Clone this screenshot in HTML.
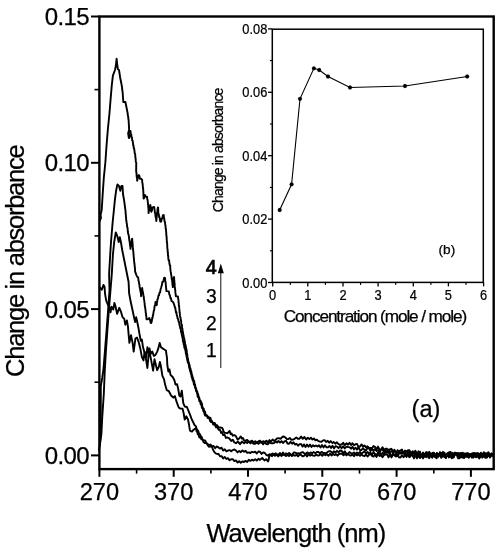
<!DOCTYPE html>
<html><head><meta charset="utf-8"><title>Change in absorbance</title>
<style>
html,body{margin:0;padding:0;background:#fff;}
svg{display:block;}
text{font-family:"Liberation Sans",sans-serif;fill:#000;}
</style></head><body>
<svg width="500" height="550" viewBox="0 0 500 550">
<rect width="500" height="550" fill="#fff"/>
<g stroke="#000" fill="none" stroke-linecap="butt">
<rect x="99.4" y="16.5" width="394.3" height="452.6" stroke-width="2.4"/>
<line x1="91" x2="99.4" y1="455.4" y2="455.4" stroke-width="2"/>
<line x1="91" x2="99.4" y1="309.1" y2="309.1" stroke-width="2"/>
<line x1="91" x2="99.4" y1="162.8" y2="162.8" stroke-width="2"/>
<line x1="91" x2="99.4" y1="16.5" y2="16.5" stroke-width="2"/>
<line x1="94.5" x2="99.4" y1="382.2" y2="382.2" stroke-width="1.6"/>
<line x1="94.5" x2="99.4" y1="235.9" y2="235.9" stroke-width="1.6"/>
<line x1="94.5" x2="99.4" y1="89.6" y2="89.6" stroke-width="1.6"/>
<line x1="99.4" x2="99.4" y1="469" y2="476.8" stroke-width="2"/>
<line x1="173.7" x2="173.7" y1="469" y2="476.8" stroke-width="2"/>
<line x1="248.0" x2="248.0" y1="469" y2="476.8" stroke-width="2"/>
<line x1="322.3" x2="322.3" y1="469" y2="476.8" stroke-width="2"/>
<line x1="396.6" x2="396.6" y1="469" y2="476.8" stroke-width="2"/>
<line x1="470.9" x2="470.9" y1="469" y2="476.8" stroke-width="2"/>
<line x1="136.6" x2="136.6" y1="469" y2="473.6" stroke-width="1.6"/>
<line x1="210.9" x2="210.9" y1="469" y2="473.6" stroke-width="1.6"/>
<line x1="285.1" x2="285.1" y1="469" y2="473.6" stroke-width="1.6"/>
<line x1="359.5" x2="359.5" y1="469" y2="473.6" stroke-width="1.6"/>
<line x1="433.8" x2="433.8" y1="469" y2="473.6" stroke-width="1.6"/>
</g>
<g stroke="#000" stroke-width="0.25">
<g font-size="24px">
<text x="89" y="464.0" text-anchor="end" letter-spacing="-0.6">0.00</text>
<text x="89" y="317.7" text-anchor="end" letter-spacing="-0.6">0.05</text>
<text x="89" y="171.4" text-anchor="end" letter-spacing="-0.6">0.10</text>
<text x="89" y="25.1" text-anchor="end" letter-spacing="-0.6">0.15</text>
</g>
<g font-size="23.6px">
<text x="99.4" y="499.8" text-anchor="middle">270</text>
<text x="173.7" y="499.8" text-anchor="middle">370</text>
<text x="248.0" y="499.8" text-anchor="middle">470</text>
<text x="322.3" y="499.8" text-anchor="middle">570</text>
<text x="396.6" y="499.8" text-anchor="middle">670</text>
<text x="470.9" y="499.8" text-anchor="middle">770</text>
</g>
<text x="295.9" y="542" font-size="25.5px" text-anchor="middle" letter-spacing="-0.95">Wavelength (nm)</text>
<text transform="translate(24,261.3) rotate(-90)" font-size="25.5px" text-anchor="middle" letter-spacing="-1.27">Change in absorbance</text>
<text x="411.6" y="417.3" font-size="23.5px">(a)</text>
<text x="211.3" y="274.4" font-size="19.8px" text-anchor="middle" stroke-width="0.7">4</text>
<text x="211.3" y="302.5" font-size="19.3px" text-anchor="middle">3</text>
<text x="211.3" y="329.8" font-size="19.3px" text-anchor="middle">2</text>
<text x="211.3" y="356.5" font-size="19.3px" text-anchor="middle">1</text>
<line x1="220.8" x2="220.8" y1="270" y2="368" stroke="#1a1a1a" stroke-width="1.05"/>
<path d="M220.8 263.6 L223.8 273.2 L217.8 273.2 Z" fill="#000" stroke="none"/>
<g stroke="#000" fill="none">
<rect x="272.3" y="29.2" width="211" height="253.2" stroke-width="1.5"/>
<line x1="268" x2="272.3" y1="282.5" y2="282.5" stroke-width="1.3"/>
<line x1="268" x2="272.3" y1="219.1" y2="219.1" stroke-width="1.3"/>
<line x1="268" x2="272.3" y1="155.7" y2="155.7" stroke-width="1.3"/>
<line x1="268" x2="272.3" y1="92.3" y2="92.3" stroke-width="1.3"/>
<line x1="268" x2="272.3" y1="28.9" y2="28.9" stroke-width="1.3"/>
<line x1="269.9" x2="272.3" y1="250.8" y2="250.8" stroke-width="1.1"/>
<line x1="269.9" x2="272.3" y1="187.4" y2="187.4" stroke-width="1.1"/>
<line x1="269.9" x2="272.3" y1="124.0" y2="124.0" stroke-width="1.1"/>
<line x1="269.9" x2="272.3" y1="60.6" y2="60.6" stroke-width="1.1"/>
<line x1="272.7" x2="272.7" y1="282.4" y2="286.4" stroke-width="1.3"/>
<line x1="307.8" x2="307.8" y1="282.4" y2="286.4" stroke-width="1.3"/>
<line x1="343.0" x2="343.0" y1="282.4" y2="286.4" stroke-width="1.3"/>
<line x1="378.1" x2="378.1" y1="282.4" y2="286.4" stroke-width="1.3"/>
<line x1="413.3" x2="413.3" y1="282.4" y2="286.4" stroke-width="1.3"/>
<line x1="448.4" x2="448.4" y1="282.4" y2="286.4" stroke-width="1.3"/>
<line x1="483.6" x2="483.6" y1="282.4" y2="286.4" stroke-width="1.3"/>
<line x1="290.3" x2="290.3" y1="282.4" y2="284.9" stroke-width="1.1"/>
<line x1="325.4" x2="325.4" y1="282.4" y2="284.9" stroke-width="1.1"/>
<line x1="360.6" x2="360.6" y1="282.4" y2="284.9" stroke-width="1.1"/>
<line x1="395.7" x2="395.7" y1="282.4" y2="284.9" stroke-width="1.1"/>
<line x1="430.9" x2="430.9" y1="282.4" y2="284.9" stroke-width="1.1"/>
<line x1="466.0" x2="466.0" y1="282.4" y2="284.9" stroke-width="1.1"/>
</g>
<g font-size="14.6px">
<text transform="translate(267.3,287.5) scale(0.88,1)" text-anchor="end">0.00</text>
<text transform="translate(267.3,224.1) scale(0.88,1)" text-anchor="end">0.02</text>
<text transform="translate(267.3,160.7) scale(0.88,1)" text-anchor="end">0.04</text>
<text transform="translate(267.3,97.3) scale(0.88,1)" text-anchor="end">0.06</text>
<text transform="translate(267.3,33.9) scale(0.88,1)" text-anchor="end">0.08</text>
<text transform="translate(272.7,299.6) scale(0.88,1)" text-anchor="middle">0</text>
<text transform="translate(307.8,299.6) scale(0.88,1)" text-anchor="middle">1</text>
<text transform="translate(343.0,299.6) scale(0.88,1)" text-anchor="middle">2</text>
<text transform="translate(378.1,299.6) scale(0.88,1)" text-anchor="middle">3</text>
<text transform="translate(413.3,299.6) scale(0.88,1)" text-anchor="middle">4</text>
<text transform="translate(448.4,299.6) scale(0.88,1)" text-anchor="middle">5</text>
<text transform="translate(483.6,299.6) scale(0.88,1)" text-anchor="middle">6</text>
</g>
<text x="374.9" y="322" font-size="17.2px" text-anchor="middle" letter-spacing="-1.1">Concentration (mole / mole)</text>
<text transform="translate(223,150.3) rotate(-90)" font-size="14px" text-anchor="middle" letter-spacing="-0.86">Change in absorbance</text>
<text x="438.6" y="254.3" font-size="13.6px">(b)</text>
<polyline fill="none" stroke="#000" stroke-width="1.1" points="279.7,210.0 291.6,184.3 300.0,98.8 313.9,68.3 319.2,70.0 328.0,76.5 350.0,87.5 405.0,86.0 467.2,76.5"/>
<circle cx="279.7" cy="210.0" r="1.9" fill="#000"/>
<circle cx="291.6" cy="184.3" r="1.9" fill="#000"/>
<circle cx="300.0" cy="98.8" r="1.9" fill="#000"/>
<circle cx="313.9" cy="68.3" r="1.9" fill="#000"/>
<circle cx="319.2" cy="70.0" r="1.9" fill="#000"/>
<circle cx="328.0" cy="76.5" r="1.9" fill="#000"/>
<circle cx="350.0" cy="87.5" r="1.9" fill="#000"/>
<circle cx="405.0" cy="86.0" r="1.9" fill="#000"/>
<circle cx="467.2" cy="76.5" r="1.9" fill="#000"/>
</g>
<g fill="none" stroke="#000" stroke-width="1.9" stroke-linejoin="round" stroke-linecap="round">
<polyline points="99.8,221.0 101.0,218.0 100.6,214.8 101.7,210.0 102.7,194.0 103.8,178.0 105.4,162.0 106.5,146.0 107.8,130.0 109.4,114.0 110.7,98.0 111.8,85.2 112.9,75.6 115.0,70.0 115.8,66.0 116.6,58.8 117.4,66.0 117.9,69.2 119.0,70.0 120.1,77.2 121.7,85.2 122.7,93.2 123.3,102.0 125.4,102.0 126.2,106.0 127.5,112.4 127.7,113.6 127.9,115.9 128.2,116.6 128.4,119.5 128.6,119.8 128.7,122.5 128.8,123.0 128.9,126.1 129.0,126.4 129.1,129.8 128.6,131.5 128.1,133.7 128.4,134.7 128.8,137.8 129.1,138.1 129.4,137.6 129.8,134.9 130.2,133.8 130.5,131.0 130.8,133.9 131.2,134.3 131.6,137.2 131.9,137.3 132.2,140.5 132.6,140.7 132.9,142.4 133.2,145.3 133.5,145.3 133.8,148.4 134.1,148.5 134.4,150.3 134.7,153.1 134.9,153.4 135.2,154.6 135.4,158.0 135.6,158.0 135.8,161.4 136.1,162.5 136.3,162.8 136.2,165.8 136.2,166.4 136.2,169.3 136.1,169.5 136.3,172.6 136.5,172.6 136.6,175.8 136.8,177.5 137.0,177.6 137.2,180.7 137.7,178.4 138.3,175.7 138.8,175.0 139.4,175.8 139.9,178.8 141.0,178.6 142.1,179.6 142.3,182.7 142.5,183.1 142.6,184.1 142.8,185.7 143.0,188.7 143.2,188.8 143.3,191.6 143.4,192.5 143.4,194.9 143.5,195.8 143.6,198.4 143.7,198.6 144.1,198.2 144.4,195.6 144.8,194.9 145.9,196.9 147.0,196.7 147.3,199.3 147.6,200.1 147.8,201.8 148.1,204.8 148.2,205.1 148.3,207.6 148.4,208.0 148.5,210.0 148.6,213.1 149.0,210.0 149.4,210.1 149.9,207.2 150.3,205.0 150.6,206.6 150.9,208.2 151.1,211.2 151.4,211.7 151.9,210.6 152.5,207.4 154.1,207.0 154.4,208.1 154.6,210.0 154.9,212.6 155.2,213.2 155.5,216.2 155.8,217.5 156.0,217.7 156.3,221.0 156.5,219.5 156.7,216.5 156.8,216.5 157.0,213.2 157.2,212.0 157.4,212.1 157.5,209.1 157.7,208.4 157.9,207.4 158.1,207.4 158.2,209.3 158.3,212.5 158.5,213.3 158.8,214.3 159.2,217.5 159.5,217.1 159.9,219.0 160.2,221.4 160.6,221.7 161.2,221.5 161.7,218.5 162.3,218.6 162.9,215.1 163.4,215.2 163.7,215.0 163.9,217.5 164.2,218.3 164.5,221.1 164.9,221.7 165.3,225.2 165.5,225.5 165.7,228.6 165.9,228.7 166.1,231.5 166.2,231.9 166.3,235.0 166.5,236.4 166.6,236.7 166.7,239.7 166.8,239.8 166.9,243.0 167.1,242.7 167.2,244.7 167.3,247.8 167.4,248.8 167.6,249.4 167.7,252.1 167.9,252.4 168.0,255.8 168.2,255.6 168.3,258.4 168.7,260.6 169.1,260.2 169.4,263.5 169.8,265.3 170.2,265.4 170.3,268.5 170.4,269.5 170.7,271.9 170.9,272.6 171.2,275.3 171.5,275.7 171.7,279.0 172.0,278.6 172.2,281.7 172.3,281.9 172.5,284.8 172.6,285.0 172.8,287.1 173.0,287.0 173.1,283.6 173.3,283.1 173.5,280.6 173.7,280.6 173.8,277.1 174.0,277.3 174.1,277.1 174.2,280.1 174.3,280.2 174.5,283.2 174.6,283.9 174.7,286.4 174.9,287.2 175.1,289.8 175.3,290.2 175.4,292.9 175.6,293.6 175.8,296.0 176.0,296.4 177.9,296.4 178.1,297.6 178.2,299.5 178.4,299.3 178.6,302.8 178.7,302.4 178.9,306.3 179.1,305.9 179.3,309.1 179.4,309.5 179.6,312.6 179.8,312.7 180.0,315.9 180.3,317.3 180.5,317.4 180.8,320.4 181.1,320.5 181.3,324.0 181.6,325.2 181.9,324.8 182.1,328.3 182.4,328.5 182.7,331.6 182.9,331.6 183.2,334.6 183.5,334.9 183.8,337.6 184.2,338.2 184.5,341.2 184.8,341.1 185.1,344.7 185.4,344.6 185.8,346.3 186.1,349.3 186.4,348.9 186.7,350.7 186.9,354.3 187.2,354.0 187.5,357.5 187.7,359.1 188.0,358.5 188.4,362.2 188.8,362.4 189.2,365.1 189.6,364.9 190.0,368.5 190.4,368.2 190.9,371.1 191.3,371.4 191.8,374.8 192.2,375.2 192.7,377.8 193.1,378.2 193.6,380.9 194.1,380.8 194.6,384.3 195.0,384.2 195.5,387.7 196.0,388.0 196.5,390.6 197.1,391.0 197.6,393.6 198.1,394.2 198.7,397.4 199.2,397.4 199.8,400.4 200.5,400.7 201.1,402.3 201.8,403.2 202.4,406.8 203.0,408.8 203.7,408.6 204.3,412.0 205.0,411.5 205.6,414.8 206.9,415.5 208.3,416.9 209.6,418.2 210.4,417.7 211.2,420.8 212.0,421.2 213.3,423.4 214.7,422.9 216.0,425.5 217.2,425.2 218.4,427.5 220.4,427.4 222.4,428.2 223.5,431.1 224.5,432.9 225.6,432.9 227.6,433.2 229.6,430.9 230.7,434.2 231.7,433.6 232.8,435.7 234.4,435.1 236.0,436.3 237.6,439.6 239.2,438.4 240.8,436.4 241.9,438.6 242.9,438.0 244.0,440.4 245.6,440.7 247.2,439.9 248.8,441.8 250.4,441.6 252.0,440.7 253.6,442.3 255.2,441.2 256.8,443.0 258.4,441.4 260.0,440.6 261.6,442.4 263.2,441.2 264.8,442.0 266.4,440.7 268.0,442.5 269.5,440.1 271.0,441.5 272.5,439.6 274.0,440.7 275.5,440.2 277.0,438.4 278.8,438.2 280.6,438.8 282.4,436.8 283.9,436.5 285.4,437.5 286.9,439.1 288.4,439.1 289.9,438.0 291.4,439.8 293.0,439.6 294.6,438.8 296.3,437.4 297.9,438.8 299.5,438.7 301.1,436.6 302.8,438.8 304.4,436.9 306.1,439.5 307.8,437.7 309.4,439.1 310.9,437.7 312.4,439.6 313.9,438.4 315.4,440.3 316.9,439.6 318.4,441.1 319.9,441.6 321.5,441.7 323.0,440.4 324.6,440.2 326.1,442.0 327.7,440.8 329.2,442.7 330.7,441.1 332.3,443.0 333.8,442.1 335.4,443.7 336.9,442.3 338.5,444.2 340.0,444.6 341.6,444.5 343.2,442.8 344.8,445.2 346.4,443.3 348.0,444.7 349.5,442.8 351.0,445.1 352.5,443.2 354.0,445.3 355.5,444.2 357.0,443.9 358.5,447.0 360.0,446.5 361.5,444.4 363.0,446.6 364.5,445.4 366.0,447.5 367.5,446.3 369.0,448.0 370.5,447.9 372.0,448.3 373.5,446.1 375.0,446.8 376.5,449.4 378.0,446.6 379.5,449.7 381.0,449.5 382.5,447.3 384.0,449.9 385.5,448.8 387.0,448.8 388.5,452.0 390.0,449.2 391.5,448.8 393.0,452.5 394.5,449.8 396.0,453.0 397.5,453.1 399.0,452.3 400.5,450.3 402.0,449.6 403.5,453.2 405.0,450.6 406.5,451.3 408.0,450.3 409.5,450.3 411.0,453.9 412.5,451.3 414.0,453.7 415.5,450.8 417.0,453.9 418.5,451.3 420.0,455.8 421.5,455.9 423.1,452.5 424.6,455.1 426.2,452.0 427.7,455.2 429.2,451.8 430.8,456.2 432.3,453.0 433.8,452.7 435.4,455.6 436.9,453.1 438.5,455.5 440.0,452.0 441.5,455.8 443.0,451.8 444.5,455.6 446.1,456.4 447.6,455.4 449.1,452.2 450.6,452.0 452.1,455.8 453.6,453.4 455.1,452.7 456.7,453.1 458.2,453.0 459.7,456.7 461.2,455.5 462.7,452.7 464.2,456.0 465.7,453.5 467.3,456.5 468.8,453.5 470.3,456.0 471.8,453.6 473.3,455.8 474.8,452.9 476.3,455.6 477.9,452.9 479.4,455.6 480.9,452.7 482.4,456.0 483.9,452.2 485.4,456.5 486.9,453.2 488.5,452.2 490.0,455.9 491.5,453.7 493.0,454.8"/>
<polyline points="100.0,445.0 100.6,434.0 100.8,410.0 100.8,386.0 102.2,378.0 103.4,370.0 105.0,350.0 106.6,330.0 108.1,310.0 109.5,290.0 109.1,274.0 110.2,254.8 111.0,242.0 112.6,222.8 113.9,210.0 115.0,198.8 116.1,190.8 117.4,184.4 119.0,186.0 120.3,190.8 121.4,186.0 122.5,186.0 123.0,194.0 124.1,200.4 125.4,210.0 125.5,210.6 125.7,214.1 125.8,213.9 125.9,216.8 126.1,217.3 126.2,220.6 126.4,220.4 126.7,223.5 126.9,223.9 127.1,227.0 127.3,226.9 127.6,228.2 127.8,231.2 128.1,233.4 128.3,233.7 128.6,235.0 128.9,236.5 129.1,238.4 129.4,240.9 129.6,241.1 129.8,243.2 130.1,245.8 130.3,246.2 130.5,248.9 130.7,246.0 131.0,246.1 131.2,243.6 131.4,242.1 131.6,241.7 131.9,239.0 132.1,238.7 132.2,238.7 132.3,241.6 132.5,241.8 132.6,244.5 132.7,244.6 132.8,247.4 133.0,248.1 133.1,250.6 133.3,251.0 133.4,253.5 133.6,254.5 133.7,257.3 133.9,257.7 134.0,260.2 134.2,261.6 134.4,263.8 134.5,263.5 134.7,267.0 134.8,266.6 135.0,268.8 135.1,271.8 135.3,271.9 136.1,274.4 136.9,276.1 137.6,277.4 138.2,277.5 138.5,280.7 138.8,281.4 139.1,284.0 139.4,284.3 139.7,288.0 140.0,287.8 140.3,291.0 140.6,291.4 140.8,292.9 141.1,296.2 141.4,292.6 141.6,292.6 141.9,289.9 142.2,288.0 142.6,291.4 142.9,291.9 143.3,294.5 143.5,296.2 143.7,296.2 144.0,299.5 144.2,300.0 144.4,302.2 144.6,302.9 144.8,306.2 145.1,306.6 145.3,309.1 145.5,309.9 145.7,312.6 145.9,312.9 146.1,315.6 146.3,316.0 146.5,319.2 147.8,319.2 149.4,318.0 149.8,319.7 150.2,319.9 150.6,322.8 151.0,323.1 151.4,322.6 151.8,321.2 152.2,317.8 152.6,317.9 152.9,315.1 153.2,314.9 153.6,311.7 153.9,310.4 154.2,309.9 154.5,306.8 154.8,305.6 155.2,304.9 155.5,301.9 156.1,305.2 156.6,305.1 156.8,305.0 157.0,302.2 157.2,301.6 157.4,299.3 157.9,298.8 158.5,295.5 159.0,295.3 159.5,292.6 160.1,292.3 160.6,289.2 161.1,287.8 161.5,286.1 161.9,285.1 162.4,281.8 163.0,281.9 163.6,280.5 164.2,277.6 164.8,278.0 165.1,278.1 165.3,281.8 165.6,281.9 165.8,285.2 165.9,285.5 166.1,288.4 166.2,288.2 166.4,291.1 168.8,291.4 169.3,294.4 169.9,295.3 170.4,298.0 170.9,298.0 171.5,301.1 172.0,301.1 173.2,302.2 174.4,305.3 174.8,307.2 175.2,307.5 175.6,310.2 176.0,312.7 176.4,312.1 176.8,315.4 177.2,316.0 177.6,318.5 178.1,318.9 178.6,321.8 179.0,321.8 179.5,325.0 180.0,326.8 180.3,328.5 180.7,328.5 181.0,331.8 181.4,331.4 181.7,334.5 182.1,336.0 182.4,337.7 182.7,338.3 183.0,341.6 183.4,341.2 183.7,344.7 184.0,344.4 184.4,347.9 184.9,347.2 185.3,350.5 185.6,350.7 185.9,353.9 186.2,353.5 186.6,357.0 186.9,356.8 187.2,359.7 187.5,360.9 187.9,362.5 188.3,363.1 188.8,364.5 189.2,368.0 189.6,367.7 190.0,371.0 190.4,370.6 190.9,373.8 191.3,373.6 191.7,377.3 192.1,377.1 192.6,380.3 193.0,380.2 193.5,382.0 194.0,384.8 194.6,384.7 195.1,387.9 195.6,388.4 196.1,391.2 196.7,391.8 197.2,393.0 197.7,396.9 198.3,396.6 198.8,397.9 199.4,401.3 200.1,401.3 200.7,404.3 201.4,405.0 202.0,408.1 202.6,407.8 203.3,411.0 203.9,410.9 204.6,414.4 205.2,415.7 206.5,415.2 207.7,417.9 209.0,417.4 210.0,420.8 211.0,422.1 212.0,421.6 213.3,424.6 214.7,424.3 216.0,427.4 217.3,427.2 218.7,429.8 220.0,429.7 221.1,432.9 222.1,432.1 223.2,435.1 224.5,434.5 225.9,437.9 227.2,437.4 229.2,438.4 231.2,440.9 232.8,439.8 234.4,442.5 236.0,443.2 238.0,441.6 240.0,444.2 242.0,441.6 244.0,443.2 245.6,441.7 247.2,442.9 248.8,441.6 250.4,443.4 252.0,442.0 253.6,443.8 255.2,443.8 256.8,442.1 258.4,443.9 260.0,442.4 261.6,442.5 263.2,444.3 264.8,441.9 266.4,444.1 268.0,444.2 269.5,442.2 271.0,443.2 272.5,443.2 274.0,443.0 275.5,441.5 277.0,442.6 278.5,440.9 280.0,442.6 281.5,441.1 283.0,443.0 284.5,441.3 286.0,440.8 287.5,443.5 289.0,443.8 290.5,441.8 292.0,443.7 293.5,442.3 295.0,444.6 296.5,443.7 298.0,445.7 299.5,444.3 301.0,443.9 302.5,446.6 304.0,444.4 305.5,446.9 307.0,444.5 308.5,446.8 310.0,444.6 311.5,447.0 313.0,445.2 314.5,446.4 316.0,445.5 317.5,446.6 319.0,445.3 320.5,447.5 322.0,445.1 323.5,447.4 325.0,445.3 326.5,447.4 328.0,447.2 329.5,445.9 331.0,448.0 332.5,445.7 334.0,448.4 335.5,446.2 337.0,446.7 338.5,448.2 340.0,446.0 341.6,448.2 343.2,446.3 344.8,448.4 346.4,446.7 348.0,447.1 349.5,447.1 351.0,448.7 352.5,446.8 354.0,449.5 355.5,447.7 357.0,449.6 358.5,447.4 360.0,450.1 361.5,450.0 363.0,448.2 364.5,449.9 366.0,450.5 367.5,448.0 369.0,448.3 370.5,451.1 372.0,448.6 373.5,450.9 375.0,449.0 376.5,451.0 378.0,449.9 379.5,452.5 381.0,449.7 382.5,449.2 384.0,452.1 385.5,450.0 387.0,452.7 388.5,449.5 390.0,453.2 391.5,451.0 393.0,450.4 394.5,450.8 396.0,453.6 397.5,450.2 399.0,451.1 400.5,453.6 402.0,451.8 403.5,453.7 405.0,451.2 406.5,455.7 408.0,451.0 409.5,454.2 411.0,452.4 412.5,454.7 414.0,451.6 415.5,456.2 417.0,453.1 418.5,456.2 420.0,451.7 421.5,456.8 423.1,453.6 424.6,456.4 426.2,455.4 427.7,452.5 429.2,457.0 430.8,453.9 432.3,456.6 433.8,452.9 435.4,457.2 436.9,453.1 438.5,456.6 440.0,453.0 441.5,453.0 443.0,456.5 444.5,452.7 446.1,457.5 447.6,453.4 449.1,452.9 450.6,456.6 452.1,452.8 453.6,457.3 455.1,452.8 456.7,454.0 458.2,456.5 459.7,453.4 461.2,452.9 462.7,457.6 464.2,457.7 465.7,454.1 467.3,453.1 468.8,457.8 470.3,454.4 471.8,457.6 473.3,453.2 474.8,454.2 476.3,457.3 477.9,454.2 479.4,457.5 480.9,453.8 482.4,457.6 483.9,454.2 485.4,457.8 486.9,457.1 488.5,453.5 490.0,456.5 491.5,453.3 493.0,455.4"/>
<polyline points="99.0,450.0 101.4,434.0 102.2,418.0 103.8,394.0 104.8,370.0 106.0,350.0 107.4,330.0 108.9,310.0 110.5,290.0 111.8,274.0 112.9,254.8 114.2,242.0 115.8,232.4 117.4,236.4 118.7,242.0 119.8,237.2 120.9,242.0 122.2,250.0 123.8,258.0 125.4,266.0 127.0,274.0 128.6,282.0 129.1,293.1 130.7,301.8 132.4,309.5 134.0,317.1 135.1,322.0 136.2,317.1 137.5,323.3 138.6,328.7 139.7,335.3 140.8,340.7 141.9,339.6 143.0,347.3 144.6,352.7 146.3,357.1 147.4,347.3 148.5,352.7 149.5,348.4 150.6,353.8 152.3,351.6 153.9,356.0 155.5,354.9 157.2,351.6 158.3,348.4 159.7,342.9 161.0,347.3 162.6,348.4 164.3,349.5 165.9,350.5 167.0,358.2 167.3,365.0 168.4,371.5 169.5,369.4 170.5,374.8 172.7,377.0 174.4,380.3 175.5,384.6 177.1,384.1 178.2,389.0 179.3,395.5 180.4,396.6 181.8,390.6 182.5,396.6 183.3,403.2 184.7,406.5 186.9,407.0 188.5,410.8 190.2,415.2 191.8,419.5 193.5,422.8 194.5,425.0 196.0,426.4 196.8,429.5 197.6,430.0 198.4,431.4 199.2,434.1 200.0,434.1 200.8,436.4 201.6,436.8 202.4,439.5 203.7,440.4 205.1,440.5 206.4,443.1 207.7,444.1 209.1,445.1 210.4,444.5 212.0,446.1 213.6,446.0 215.2,448.2 216.8,446.4 218.4,447.4 220.0,448.6 221.6,447.7 223.2,450.4 224.8,449.3 226.4,451.3 228.0,450.5 229.6,450.1 231.2,451.3 232.8,450.1 234.4,449.4 236.0,450.6 237.6,452.4 239.2,450.9 240.8,452.2 242.4,450.4 244.0,451.8 245.6,450.8 247.2,452.8 248.8,452.4 250.4,453.0 252.0,451.8 253.6,452.3 255.2,451.7 256.8,453.5 258.4,451.5 260.0,451.7 261.6,453.9 263.2,452.4 264.8,453.0 266.4,455.0 268.0,455.5 269.5,454.1 271.0,454.8 272.5,453.4 274.0,455.2 275.5,453.2 277.0,454.4 278.5,454.5 280.0,453.0 281.5,455.0 283.0,452.6 284.5,455.0 286.0,453.3 287.5,454.3 289.1,453.0 290.6,454.7 292.2,454.5 293.7,452.5 295.3,452.6 296.8,453.5 298.3,453.3 299.9,453.6 301.4,452.5 303.0,452.1 304.5,453.6 306.1,453.4 307.6,452.4 309.1,453.9 310.7,452.4 312.2,453.3 313.8,452.1 315.3,453.4 316.9,451.9 318.4,452.0 319.9,453.2 321.5,451.9 323.0,452.9 324.6,453.0 326.1,453.4 327.7,451.8 329.2,451.2 330.7,451.3 332.3,453.0 333.8,451.3 335.4,452.6 336.9,450.8 338.5,452.4 340.0,450.5 341.6,450.7 343.2,453.1 344.8,451.3 346.4,453.8 348.0,453.7 349.5,452.1 351.0,453.3 352.5,453.5 354.0,452.4 355.5,454.1 357.0,452.4 358.5,453.5 360.0,451.9 361.5,453.9 363.0,452.4 364.5,451.7 366.0,453.5 367.5,452.0 369.0,453.6 370.5,452.5 372.0,454.7 373.5,452.1 375.0,454.0 376.5,455.1 378.0,452.5 379.5,452.4 381.0,455.4 382.5,452.8 384.0,454.8 385.5,452.0 387.0,452.1 388.5,452.3 390.0,455.4 391.5,456.1 393.0,453.0 394.5,455.5 396.0,453.7 397.5,455.9 399.0,453.7 400.5,452.8 402.0,453.1 403.5,452.7 405.0,454.1 406.5,455.9 408.0,453.7 409.5,457.1 411.0,453.8 412.5,456.3 414.0,456.1 415.5,453.2 417.0,456.6 418.5,456.5 420.0,453.5 421.5,455.9 423.0,454.1 424.6,456.4 426.1,454.0 427.6,456.6 429.1,456.8 430.6,453.3 432.2,456.9 433.7,453.5 435.2,456.6 436.7,454.0 438.2,456.6 439.8,453.4 441.3,456.4 442.8,456.2 444.3,453.6 445.9,457.5 447.4,453.2 448.9,455.9 450.4,456.6 451.9,453.8 453.5,457.1 455.0,454.1 456.5,453.3 458.0,456.4 459.5,453.4 461.1,457.3 462.6,456.8 464.1,453.3 465.6,456.7 467.1,453.4 468.7,454.4 470.2,454.6 471.7,457.0 473.2,453.0 474.8,456.7 476.3,453.2 477.8,456.6 479.3,453.9 480.8,456.5 482.4,453.7 483.9,456.6 485.4,453.2 486.9,456.8 488.4,454.2 490.0,457.0 491.5,454.6 493.0,455.4"/>
<polyline points="99.6,287.1 101.8,289.8 103.5,284.9 104.5,286.5 105.1,294.2 106.2,300.7 107.8,304.5 109.5,307.3 110.5,312.2 111.6,306.7 113.3,309.5 114.4,302.9 115.5,306.2 117.1,313.8 119.3,307.8 120.9,311.6 122.5,317.1 124.2,318.7 125.3,324.7 126.9,320.4 128.0,326.9 128.3,330.9 129.4,342.9 131.0,335.3 132.6,342.9 133.7,351.6 135.4,338.5 137.0,337.5 138.6,341.8 140.3,348.4 141.9,357.1 143.5,360.4 144.6,351.6 145.7,357.1 147.4,368.0 148.5,356.0 149.5,351.6 151.2,360.4 153.1,370.7 154.5,359.3 155.5,363.6 157.2,370.2 158.8,366.9 159.9,362.0 160.7,365.0 162.4,375.9 164.0,379.2 165.1,384.6 166.7,390.1 168.9,391.2 171.1,395.5 173.3,397.7 174.9,396.1 176.0,399.9 177.1,403.2 178.7,407.5 180.4,408.6 182.5,408.6 183.6,413.0 184.7,419.5 186.4,416.3 188.0,419.5 189.1,425.0 189.4,427.3 189.8,429.5 190.1,430.7 190.4,430.9 192.0,431.6 193.6,429.7 196.0,427.9 196.6,431.5 197.2,431.3 197.8,434.2 198.4,434.4 199.4,437.5 200.4,436.9 201.4,439.4 202.4,439.2 203.6,442.2 204.8,443.1 206.0,442.8 207.2,444.2 208.8,446.8 210.4,446.4 212.0,447.0 213.2,450.0 214.4,452.1 215.7,453.4 217.1,454.0 218.4,453.9 220.0,456.2 221.6,456.1 223.2,458.4 224.8,457.0 226.4,459.0 228.0,458.2 229.6,460.3 231.2,459.2 232.8,459.2 234.4,461.1 236.0,460.4 237.6,462.6 239.2,461.3 240.8,462.8 242.4,461.4 244.0,462.0 245.6,460.9 247.2,462.0 248.8,459.8 250.4,460.9 252.0,459.7 253.6,460.6 255.2,459.3 256.8,460.6 258.4,458.8 260.0,459.9 262.2,458.0 264.4,460.4 266.2,459.2 268.0,461.4 268.6,460.3 269.2,456.2 269.8,455.0 272.0,456.2 273.6,453.9 275.1,455.8 276.7,454.7 278.2,456.4 279.8,454.3 281.3,455.9 282.9,454.9 284.4,454.9 286.0,456.1 287.5,454.9 289.0,456.0 290.5,454.4 292.0,456.1 293.5,454.9 295.0,455.8 296.5,454.7 298.0,456.4 299.5,454.8 301.0,454.8 302.5,456.4 304.0,455.8 305.5,454.2 307.0,456.4 308.5,454.0 310.1,455.7 311.6,454.6 313.1,455.6 314.7,455.9 316.2,454.4 317.7,455.5 319.3,455.3 320.8,454.0 322.3,455.8 323.9,453.8 325.4,455.3 326.9,454.3 328.5,455.8 330.0,453.7 331.5,455.5 333.0,453.8 334.5,455.1 336.0,454.1 337.5,455.7 339.0,454.0 340.5,453.7 342.0,453.6 343.5,455.3 345.0,453.8 346.5,455.4 348.0,453.9 349.5,455.4 351.0,455.5 352.5,454.4 354.0,456.2 355.5,453.9 357.0,455.4 358.5,454.4 360.0,455.9 361.5,454.4 363.0,455.7 364.5,456.2 366.0,454.5 367.5,456.5 369.0,454.8 370.5,453.9 372.0,455.9 373.5,456.6 375.0,454.6 376.5,456.9 378.0,453.8 379.5,456.1 381.0,454.5 382.5,457.2 384.0,454.9 385.5,454.5 387.0,454.2 388.5,457.4 390.0,454.5 391.5,457.4 393.0,454.5 394.5,455.1 396.0,456.5 397.5,454.1 399.0,457.4 400.5,457.6 402.0,455.0 403.5,457.2 405.0,455.1 406.5,456.9 408.0,454.3 409.5,457.2 411.0,454.7 412.5,454.9 414.0,458.4 415.5,454.6 417.0,458.3 418.5,454.3 420.0,458.1 421.5,454.8 423.0,458.4 424.6,455.1 426.1,457.3 427.6,455.1 429.1,458.2 430.6,455.4 432.2,457.7 433.7,455.3 435.2,457.0 436.7,458.2 438.2,454.4 439.8,454.6 441.3,457.8 442.8,455.3 444.3,456.9 445.9,458.0 447.4,454.0 448.9,457.4 450.4,455.4 451.9,458.2 453.5,457.4 455.0,454.5 456.5,454.0 458.0,458.3 459.5,458.2 461.1,455.3 462.6,455.0 464.1,457.8 465.6,454.2 467.1,457.0 468.7,454.5 470.2,454.4 471.7,453.9 473.2,457.7 474.8,455.0 476.3,457.0 477.8,455.3 479.3,458.5 480.8,455.5 482.4,457.2 483.9,455.5 485.4,454.1 486.9,457.6 488.4,454.4 490.0,457.6 491.5,454.8 493.0,456.2"/>
</g>
</svg>
</body></html>
